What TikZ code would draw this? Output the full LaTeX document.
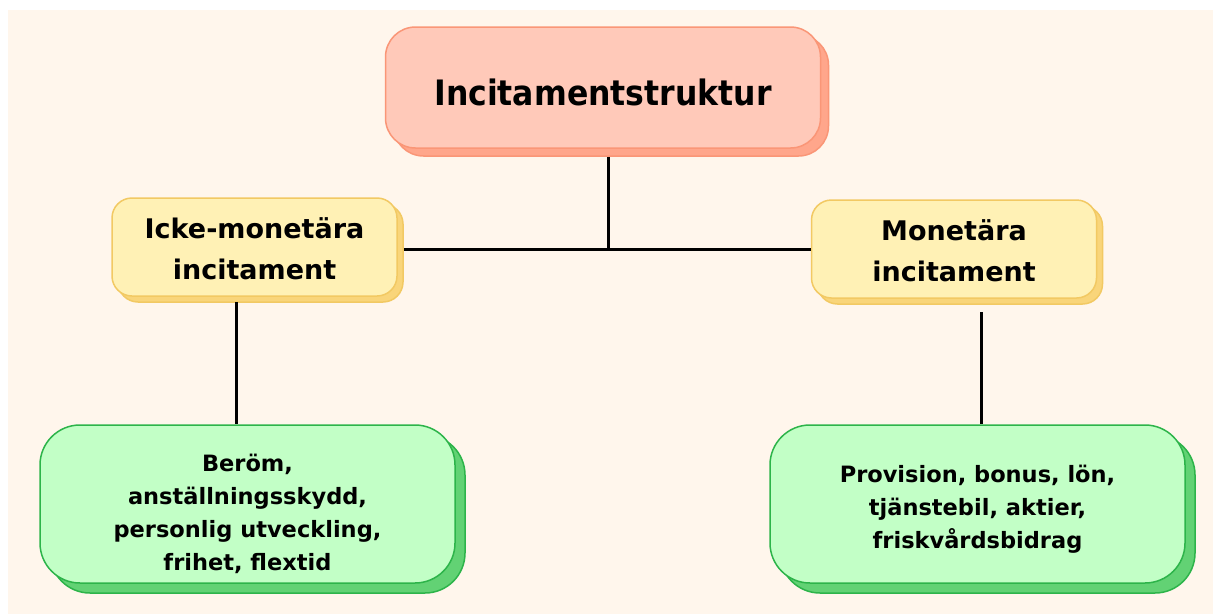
\documentclass[tikz,border=0pt]{standalone}
\usepackage{fontspec}
\setmainfont{DejaVu Sans}
\newfontfamily\titlefont{DejaVu Sans Condensed}
\usetikzlibrary{shadows}

\definecolor{bgcream}{HTML}{FFF6EC}
\definecolor{redfill}{HTML}{FFC9B9}
\definecolor{redline}{HTML}{FA9677}
\definecolor{redshade}{HTML}{FFA68B}
\definecolor{yelfill}{HTML}{FFF1B5}
\definecolor{yelline}{HTML}{F2C963}
\definecolor{yelshade}{HTML}{F9D57A}
\definecolor{grnfill}{HTML}{C2FFC6}
\definecolor{grnline}{HTML}{2DB44A}
\definecolor{grnshade}{HTML}{62D274}

\begin{document}
\begin{tikzpicture}[x=1pt,y=-1pt,
    box/.style={align=center, inner sep=0pt, line width=1.5pt, font=\bfseries},
    topbox/.style={box, fill=redfill, draw=redline, rounded corners=30pt,
        minimum width=435pt, minimum height=121pt,
        text height=35pt, text depth=0pt,
        font=\titlefont\bfseries\fontsize{35}{42}\selectfont,
        copy shadow={shadow xshift=8pt, shadow yshift=-8pt, fill=redshade, draw=redline}},
    midbox/.style={box, fill=yelfill, draw=yelline, rounded corners=20pt,
        minimum width=285pt, minimum height=98pt, text height=66pt,
        font=\bfseries\fontsize{27}{41}\selectfont,
        copy shadow={shadow xshift=6pt, shadow yshift=-6pt, fill=yelshade, draw=yelline}},
    listbox/.style={box, fill=grnfill, draw=grnline, rounded corners=40pt,
        minimum width=415pt, minimum height=158pt,
        font=\bfseries\fontsize{22.5}{33}\selectfont,
        copy shadow={shadow xshift=10pt, shadow yshift=-10pt, fill=grnshade, draw=grnline}},
    link/.style={line width=3pt, black}]

    % canvas
    \useasboundingbox (0,0) rectangle (1213,614);
    \fill[bgcream] (8,10) rectangle (1213,614);

    % top level
    \node[topbox] (top) at (603,87.5) {Incitamentstruktur};

    % the two kinds
    \node[midbox] (icke) at (254.5,247) {Icke-monetära\\incitament};
    \node[midbox] (mon) at (954,249) {Monetära\\incitament};

    % examples
    \node[listbox, text height=137pt] (ickelist) at (247.5,504) {Beröm,\\anställningsskydd,\\personlig utveckling,\\frihet, flextid};
    \node[listbox, text height=93pt] (monlist) at (977.5,504) {Provision, bonus, lön,\\tjänstebil, aktier,\\friskvårdsbidrag};

    % connectors
    \coordinate (hub) at (608,249.5);
    \coordinate (l1) at (236,302);
    \coordinate (r1) at (981.5,312);
    \draw[link, shorten <=8pt] (top.south -| hub) -- (hub);
    \draw[link, shorten <=6pt] (icke.east |- hub) -- (mon.west |- hub);
    \draw[link] (l1) -- (l1 |- ickelist.north);
    \draw[link] (r1) -- (r1 |- monlist.north);
\end{tikzpicture}
\end{document}
